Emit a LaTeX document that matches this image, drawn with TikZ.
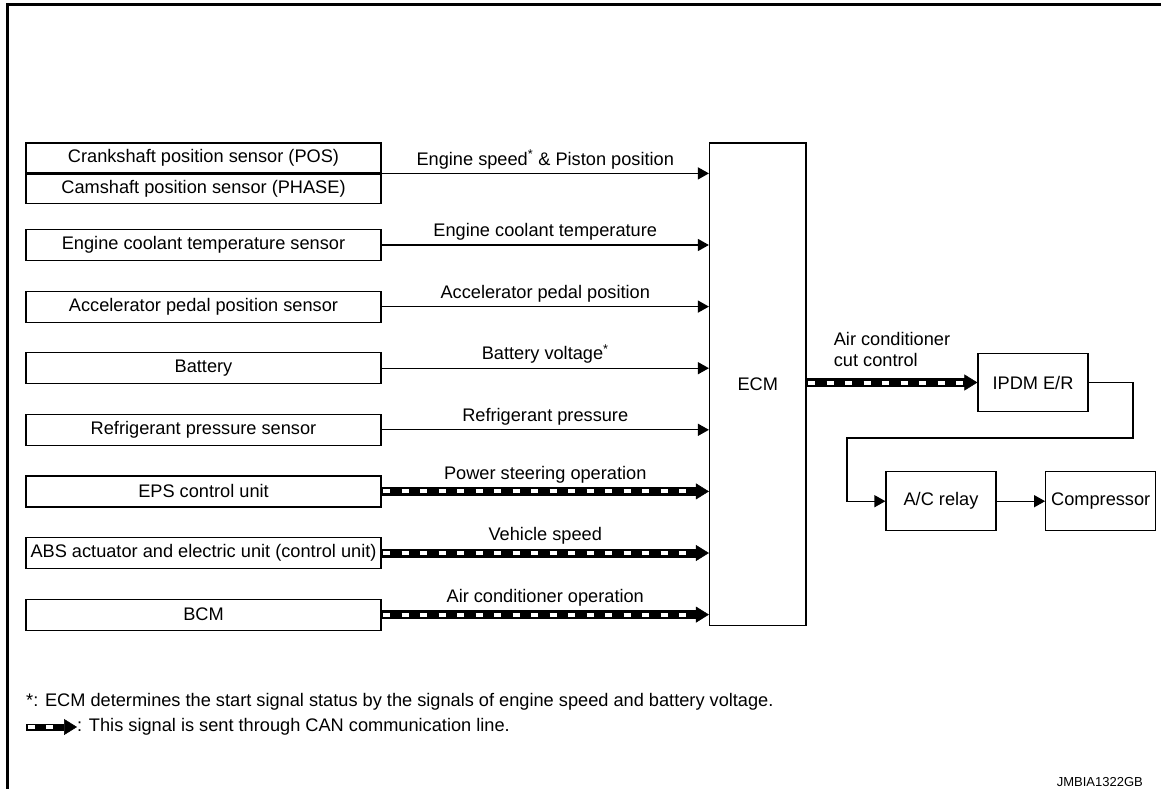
\documentclass[tikz,border=0pt]{standalone}
\usepackage{fontspec}
\setmainfont{Liberation Sans}
\usepackage{tikz}
\usetikzlibrary{positioning,arrows.meta}

\begin{document}
\begin{tikzpicture}[x=1pt, y=-1pt, font=\fontsize{18.2}{21}\selectfont,
  sensor/.style={draw, line width=1.2pt, minimum width=355pt, minimum height=31pt, inner sep=0pt},
  unit/.style={draw, line width=1.2pt, minimum width=110pt, minimum height=59pt, inner sep=0pt},
  sig/.style={line width=1.3pt, -{Triangle[length=11pt,width=12pt]}},
  can/.style={line width=9pt, -{Triangle[length=13pt,width=16pt,line width=0.5pt]},
    postaction={draw=white, -, line width=4pt, dash pattern=on 7pt off 11.5pt, dash phase=-1.5pt, shorten >=13pt}},
  lbl/.style={midway, above=3.7pt, inner sep=0pt, text depth=4pt}]
  \useasboundingbox (0,0) rectangle (1161,789);

  % Frame
  \draw[line width=3pt] (7.5,789) -- (7.5,4.8) -- (1161,4.8);

  % Inputs
  \node[sensor, minimum height=29.8pt] (crank) at (203.5,157.9) {Crankshaft position sensor (POS)};
  \node[sensor, minimum height=29.8pt, below=0pt of crank] (cam) {Camshaft position sensor (PHASE)};
  \node[sensor] (coolant) at (203.5,245) {Engine coolant temperature sensor};
  \node[sensor, below=29.4pt of coolant] (accel) {Accelerator pedal position sensor};
  \node[sensor, below=29.4pt of accel] (batt) {Battery};
  \node[sensor, below=29.4pt of batt] (refrig) {Refrigerant pressure sensor};
  \node[sensor, below=29.4pt of refrig] (eps) {EPS control unit};
  \node[sensor, below=29.4pt of eps] (abs) {ABS actuator and electric unit (control unit)};
  \node[sensor, below=29.4pt of abs] (bcm) {BCM};

  % ECM and outputs
  \node[draw, line width=1.2pt, minimum width=96.5pt, minimum height=482.5pt] (ecm) at (757.75,384.25) {ECM};
  \node[unit, minimum height=58.4pt] (ipdm) at (1033,382.5) {IPDM E/R};
  \node[unit] (relay) at (941,501.2) {A/C relay};
  \node[unit] (comp) at (1100.7,501.2) {Compressor};
  \coordinate (bendR) at (1133,438);
  \coordinate (bendL) at (847,438);

  % Signals to ECM
  \draw[sig] (crank.south east) -- (crank.south east -| ecm.west)
    node[lbl] {Engine speed\textsuperscript{*} \& Piston position};
  \draw[sig] (coolant.east) -- (coolant.east -| ecm.west) node[lbl] {Engine coolant temperature};
  \draw[sig] (accel.east) -- (accel.east -| ecm.west) node[lbl] {Accelerator pedal position};
  \draw[sig] (batt.east) -- (batt.east -| ecm.west) node[lbl] {Battery voltage\textsuperscript{*}};
  \draw[sig] (refrig.east) -- (refrig.east -| ecm.west) node[lbl] {Refrigerant pressure};
  \draw[can] (eps.east) -- (eps.east -| ecm.west) node[lbl] {Power steering operation};
  \draw[can] (abs.east) -- (abs.east -| ecm.west) node[lbl] {Vehicle speed};
  \draw[can] (bcm.east) -- (bcm.east -| ecm.west) node[lbl] {Air conditioner operation};

  % Signals from ECM
  \draw[can] (ecm.east |- ipdm.west) -- (ipdm.west)
    node[midway, above=11pt, inner sep=0pt, align=left] {Air conditioner\\cut control};
  \draw[sig] (ipdm.east) -| (bendR) -- (bendL) |- (relay.west);
  \draw[sig] (relay) -- (comp);

  % Notes
  \node[anchor=west, inner sep=0pt] (note) at (26,702)
    {*: ECM determines the start signal status by the signals of engine speed and battery voltage.};
  \coordinate (legA) at (26,727);
  \node[anchor=west, inner sep=0pt] (legtxt) at (77,727) {: This signal is sent through CAN communication line.};
  \draw[can, line width=7pt] (legA) -- (legtxt.west);
  \node[anchor=east, inner sep=0pt, font=\fontsize{13}{15}\selectfont] (code) at (1143,782) {JMBIA1322GB};
\end{tikzpicture}
\end{document}
